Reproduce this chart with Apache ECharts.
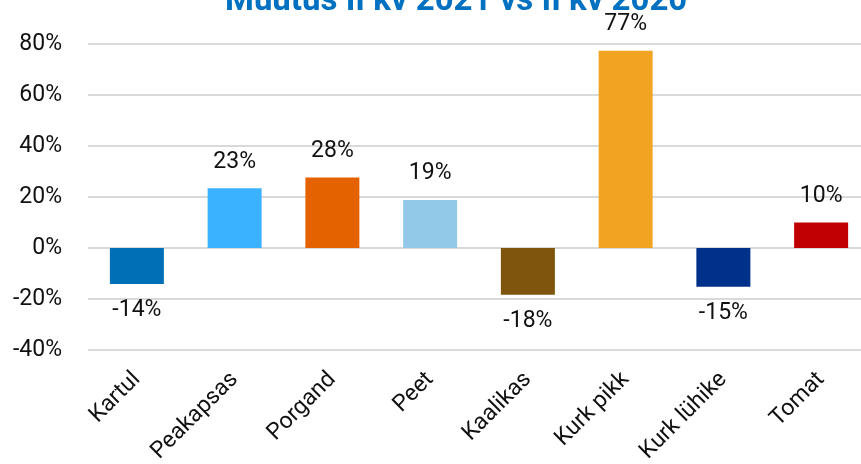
<!DOCTYPE html>
<html>
<head>
<meta charset="utf-8">
<script src="https://cdn.jsdelivr.net/npm/echarts@6/dist/echarts.min.js"></script>
<style>
html, body { margin: 0; padding: 0; background: #fff; }
#chart { width: 861px; height: 464px; }
</style>
</head>
<body>
<div id="chart"></div>
<script>
const categories = ['Kartul', 'Peakapsas', 'Porgand', 'Peet', 'Kaalikas', 'Kurk pikk', 'Kurk lühike', 'Tomat']
const values = [-14.1, 23.4, 27.6, 18.8, -18.3, 77.4, -15.2, 10.0]
const colors = ['#006fb6', '#3bb2ff', '#e46200', '#93c9e8', '#7f540c', '#f0a422', '#00318a', '#c00000']
const yTicks = [-40, -20, 0, 20, 40, 60, 80]

const chart = echarts.init(document.getElementById('chart'))
const font = 'Roboto, sans-serif'

const option = {
    backgroundColor: '#fff',
    animation: false,
    title: {
        text: 'Muutus II kv 2021 vs II kv 2020',
        left: 220,
        top: -20,
        textStyle: {
            color: '#0070c0',
            fontSize: 33,
            fontWeight: 'bold',
            fontFamily: font
        }
    },
    grid: {
        left: 88,
        width: 782,
        top: 44,
        bottom: 114,
        outerBoundsMode: 'none',
        containLabel: false
    },
    xAxis: {
        type: 'category',
        data: categories,
        axisLine: { show: false },
        axisTick: { show: false },
        axisLabel: {
            rotate: 45,
            interval: 0,
            margin: 26,
            fontSize: 23,
            color: '#111',
            fontFamily: font
        }
    },
    yAxis: {
        type: 'value',
        min: yTicks[0],
        max: yTicks[yTicks.length - 1],
        interval: 20,
        axisLine: { show: false },
        axisTick: { show: false },
        axisLabel: {
            margin: 26,
            fontSize: 23,
            color: '#111',
            fontFamily: font,
            formatter: v => v + '%'
        },
        splitLine: {
            lineStyle: { color: '#d9d9d9', width: 2 }
        }
    },
    series: [{
        type: 'bar',
        barWidth: 54,
        data: values.map((v, i) => ({
            value: v,
            itemStyle: { color: colors[i] },
            label: {
                show: true,
                position: v >= 0 ? 'top' : 'bottom',
                distance: 15,
                fontSize: 23,
                color: '#111',
                fontFamily: font,
                formatter: p => Math.round(p.value) + '%'
            }
        }))
    }]
}
chart.setOption(option)
</script>
</body>
</html>
